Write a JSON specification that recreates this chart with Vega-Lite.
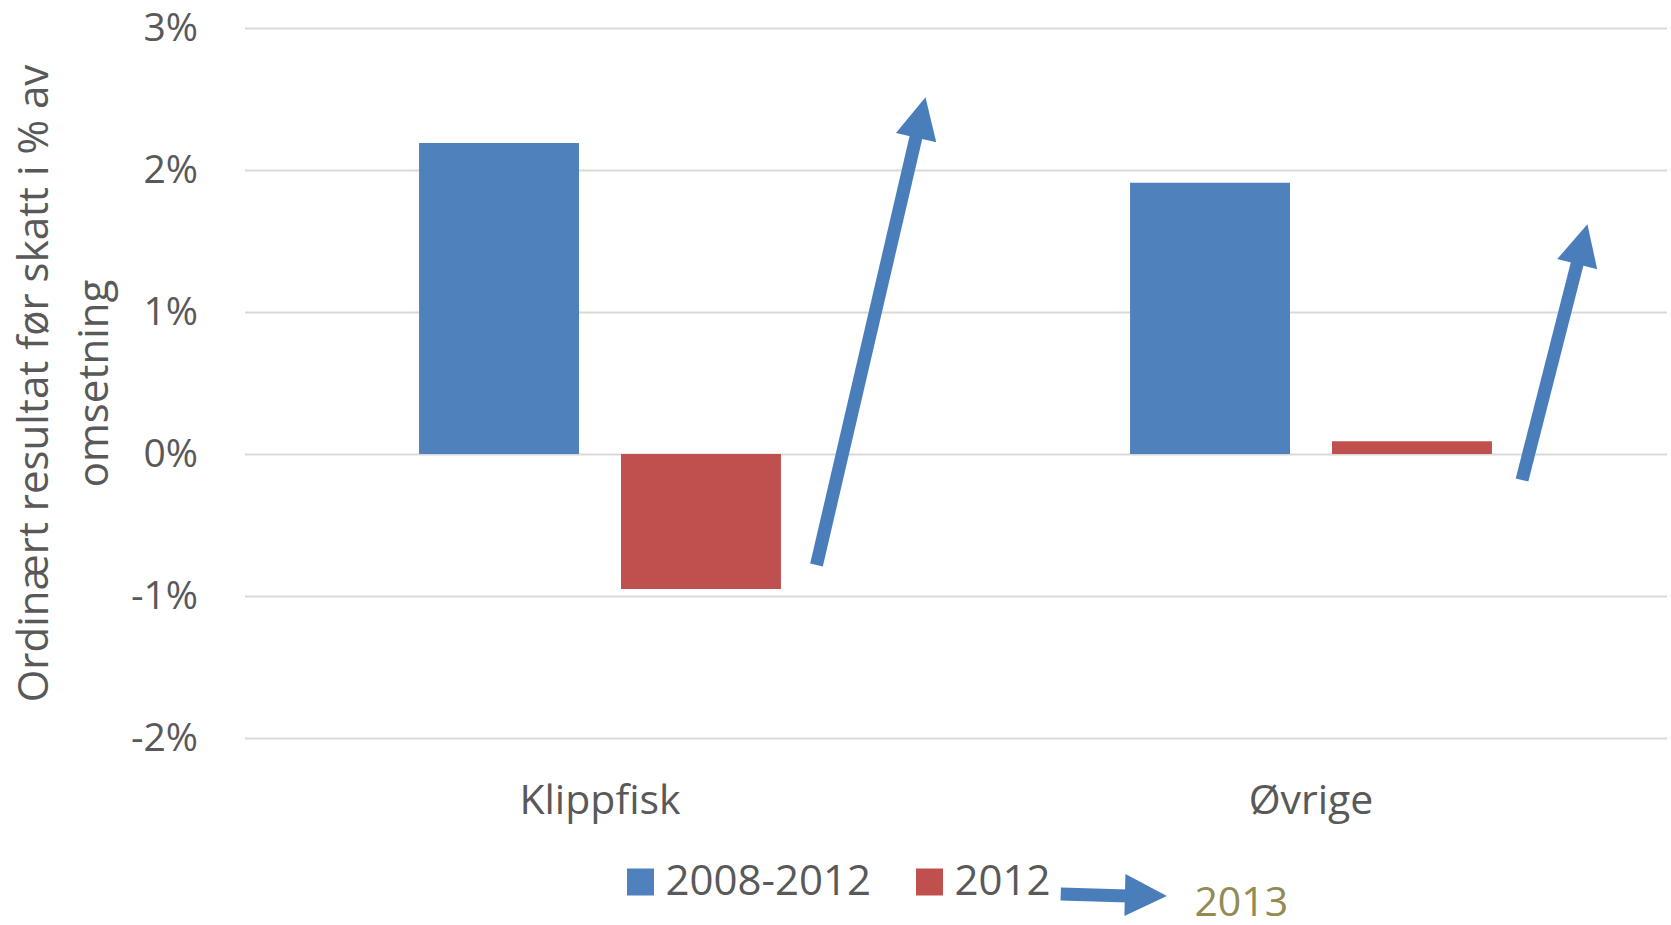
{
  "$schema": "https://vega.github.io/schema/vega-lite/v6.json",
  "width": 1422,
  "height": 710,
  "autosize": {"type": "none"},
  "padding": {"left": 244.5, "top": 28, "right": 4.5, "bottom": 187},
  "background": "white",
  "config": {
    "view": {"stroke": null},
    "font": "Open Sans",
    "axis": {"labelFont": "Open Sans", "titleFont": "Open Sans", "labelColor": "#595959", "titleColor": "#595959"}
  },
  "datasets": {
    "bars": [
      {"category": "Klippfisk", "series": "2008-2012", "value": 2.19},
      {"category": "Klippfisk", "series": "2012", "value": -0.95},
      {"category": "Øvrige", "series": "2008-2012", "value": 1.91},
      {"category": "Øvrige", "series": "2012", "value": 0.09}
    ],
    "arrows": [
      {"arrow": "Klippfisk", "x0": 0.8045, "y0": -0.782, "x1": 0.9453, "y1": 2.25, "hx": 0.9512, "hy": 2.37},
      {"arrow": "Øvrige", "x0": 1.7968, "y0": -0.183, "x1": 1.8752, "y1": 1.357, "hx": 1.8816, "hy": 1.478},
      {"arrow": "legend", "x0": 1.148, "y0": -3.099, "x1": 1.2425, "y1": -3.113, "hx": 1.2678, "hy": -3.109}
    ],
    "labels": [
      {"label": "2013", "x": 1.402, "y": -3.255}
    ]
  },
  "layer": [
    {
      "data": {"name": "bars"},
      "mark": {"type": "bar"},
      "encoding": {
        "x": {
          "field": "category", "type": "nominal", "sort": ["Klippfisk", "Øvrige"],
          "scale": {"paddingInner": 0.491, "paddingOuter": 0.2455},
          "axis": {"title": null, "domain": false, "ticks": false, "grid": false, "labelAngle": 0, "labelFontSize": 41, "labelPadding": 43, "labelColor": "#595959"}
        },
        "xOffset": {"field": "series", "type": "nominal", "sort": ["2008-2012", "2012"], "scale": {"paddingInner": 0.208, "paddingOuter": 0}},
        "y": {
          "field": "value", "type": "quantitative",
          "scale": {"domain": [-2, 3], "nice": false, "zero": false},
          "axis": {
            "values": [-2, -1, 0, 1, 2, 3],
            "labelExpr": "datum.value + '%'",
            "domain": false, "ticks": false,
            "gridColor": "#D9D9D9", "gridWidth": 2,
            "labelFontSize": 39, "labelPadding": 47,
            "title": ["Ordinært resultat før skatt i % av", "omsetning"],
            "titleFontSize": 42, "titleFontWeight": "normal", "titleLineHeight": 60,
            "titleX": -210, "titleY": 355, "titleAngle": -90,
            "titleAlign": "center", "titleBaseline": "middle"
          }
        },
        "color": {
          "field": "series", "type": "nominal",
          "scale": {"domain": ["2008-2012", "2012"], "range": ["#4F81BD", "#C0504D"]},
          "legend": {
            "title": null, "orient": "none", "legendX": 375, "legendY": 833,
            "direction": "horizontal", "symbolType": "square", "symbolSize": 729,
            "symbolStrokeWidth": 0, "labelFontSize": 42, "labelFont": "Open Sans",
            "labelColor": "#595959", "labelOffset": 4, "columnPadding": 37, "labelLimit": 500, "padding": 0
          }
        }
      }
    },
    {
      "data": {"name": "arrows"},
      "mark": {"type": "rule", "strokeCap": "butt", "color": "#4A7EBB"},
      "encoding": {
        "x": {"field": "x0", "type": "quantitative", "scale": {"domain": [0, 2], "nice": false, "zero": false}, "axis": null},
        "x2": {"field": "x1"},
        "y": {"field": "y0", "type": "quantitative"},
        "y2": {"field": "y1"},
        "strokeWidth": {"value": 13}
      }
    },
    {
      "data": {"name": "arrows"},
      "transform": [{"filter": "datum.arrow === 'Klippfisk'"}],
      "mark": {"type": "point", "shape": "M0,-1L1,1L-1,1Z", "filled": true, "size": 1714, "angle": 13.1, "color": "#4A7EBB", "opacity": 1, "strokeWidth": 0},
      "encoding": {
        "x": {"field": "hx", "type": "quantitative", "scale": {"domain": [0, 2], "nice": false, "zero": false}, "axis": null},
        "y": {"field": "hy", "type": "quantitative"}
      }
    },
    {
      "data": {"name": "arrows"},
      "transform": [{"filter": "datum.arrow === 'Øvrige'"}],
      "mark": {"type": "point", "shape": "M0,-1L1,1L-1,1Z", "filled": true, "size": 1700, "angle": 14.3, "color": "#4A7EBB", "opacity": 1, "strokeWidth": 0},
      "encoding": {
        "x": {"field": "hx", "type": "quantitative", "scale": {"domain": [0, 2], "nice": false, "zero": false}, "axis": null},
        "y": {"field": "hy", "type": "quantitative"}
      }
    },
    {
      "data": {"name": "arrows"},
      "transform": [{"filter": "datum.arrow === 'legend'"}],
      "mark": {"type": "point", "shape": "M0,-1L1,1L-1,1Z", "filled": true, "size": 1764, "angle": 91.4, "color": "#4A7EBB", "opacity": 1, "strokeWidth": 0},
      "encoding": {
        "x": {"field": "hx", "type": "quantitative", "scale": {"domain": [0, 2], "nice": false, "zero": false}, "axis": null},
        "y": {"field": "hy", "type": "quantitative"}
      }
    },
    {
      "data": {"name": "labels"},
      "mark": {"type": "text", "font": "Open Sans", "fontSize": 41, "color": "#948A54", "align": "center", "baseline": "alphabetic"},
      "encoding": {
        "x": {"field": "x", "type": "quantitative", "scale": {"domain": [0, 2], "nice": false, "zero": false}, "axis": null},
        "y": {"field": "y", "type": "quantitative"},
        "text": {"field": "label"}
      }
    }
  ],
  "resolve": {"scale": {"x": "independent"}}
}
